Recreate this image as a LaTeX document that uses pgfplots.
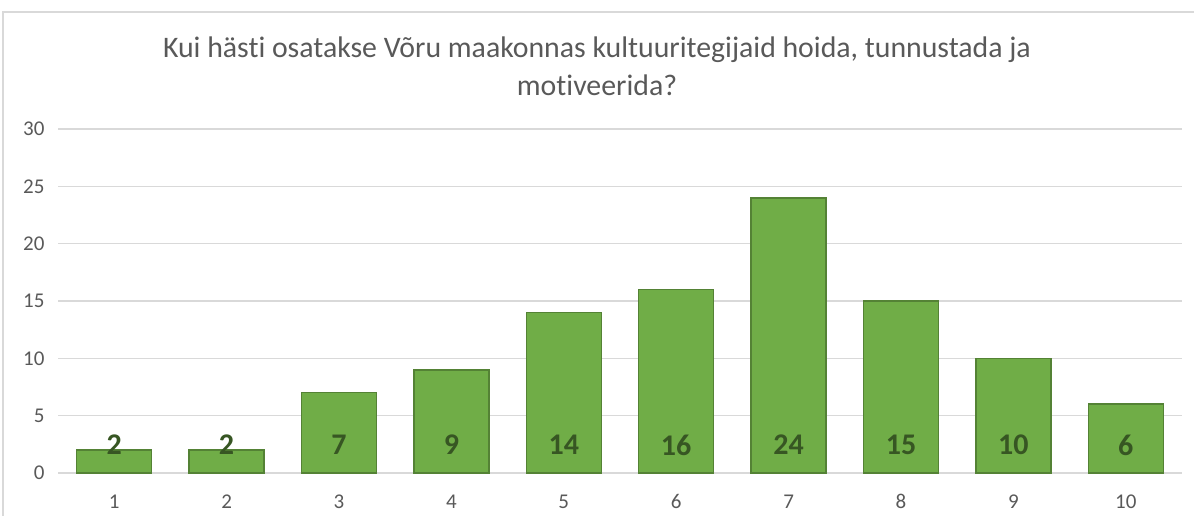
\documentclass[border=0pt]{standalone}
\usepackage{pgfplots}
\pgfplotsset{compat=1.18}
\usepackage{fontspec}
\setmainfont{Carlito}[Ligatures={NoCommon}]
\definecolor{bargreen}{HTML}{70AD47}
\definecolor{barline}{HTML}{548235}
\definecolor{lblgreen}{HTML}{375623}
\definecolor{gridgray}{HTML}{D9D9D9}
\definecolor{txtgray}{HTML}{595959}
\begin{document}
\begin{tikzpicture}[x=1pt,y=1pt]
\path[use as bounding box] (0,0) rectangle (1194,515);
\draw[gridgray, line width=2pt] (3,-5) -- (3,503) -- (1200,503);
\node[font=\fontsize{29.8}{38}\selectfont, text=txtgray, align=center] at (597,449)
  {Kui hästi osatakse Võru maakonnas kultuuritegijaid hoida, tunnustada ja\\motiveerida?};
\begin{axis}[
  at={(58pt,42pt)}, anchor=south west,
  scale only axis, width=1124pt, height=344pt,
  xmin=0.5, xmax=10.5, ymin=0, ymax=30,
  ytick={0,5,...,30}, xtick={1,...,10},
  axis line style={draw=none},
  major tick length=0pt,
  ymajorgrids, grid style={gridgray, line width=1.5pt},
  /pgf/number format/assume math mode=true,
  every tick label/.append style={font=\fontsize{21}{21}\selectfont, text=txtgray},
  yticklabel style={anchor=east, xshift=-10pt},
  xticklabel style={anchor=north, yshift=-18pt},
  clip=false,
]
\addplot[ybar, bar width=75pt, fill=bargreen, draw=barline, line width=1.5pt]
  coordinates {(1,2) (2,2) (3,7) (4,9) (5,14) (6,16) (7,24) (8,15) (9,10) (10,6)};
\addplot[draw=none, mark=none, nodes near coords, point meta=explicit symbolic,
  nodes near coords style={anchor=center, yshift=28pt, text=lblgreen, font=\bfseries\fontsize{30}{30}\selectfont}]
  coordinates {(1,0) [2] (2,0) [2] (3,0) [7] (4,0) [9] (5,0) [14] (6,0) [16] (7,0) [24] (8,0) [15] (9,0) [10] (10,0) [6]};
\end{axis}
\end{tikzpicture}
\end{document}
